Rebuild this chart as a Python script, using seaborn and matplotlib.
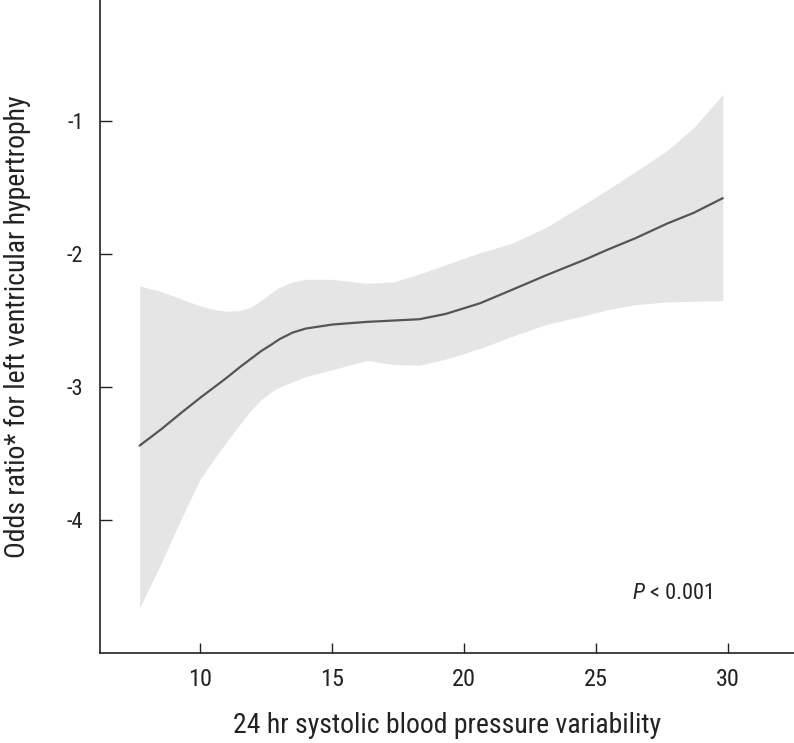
import pandas as pd
import seaborn as sns
import matplotlib.pyplot as plt

# values
sbpv = [7.7, 8.5, 9.3, 10.0, 10.6, 11.0, 11.5, 11.9, 12.3, 12.7, 13.0, 13.5, 14.0, 15.0,
        16.3, 17.3, 18.3, 19.3, 20.6, 21.8, 23.1, 24.6, 25.4, 26.5, 27.7, 28.7, 29.8]
log_or = [-3.44, -3.32, -3.19, -3.08, -2.99, -2.93, -2.85, -2.79, -2.73, -2.68, -2.64, -2.59, -2.56, -2.53,
          -2.51, -2.50, -2.49, -2.45, -2.37, -2.27, -2.16, -2.04, -1.97, -1.88, -1.77, -1.69, -1.58]
ci_upper = [-2.24, -2.28, -2.34, -2.39, -2.42, -2.43, -2.425, -2.40, -2.35, -2.29, -2.25, -2.21, -2.19, -2.19,
            -2.22, -2.21, -2.15, -2.08, -1.99, -1.92, -1.80, -1.62, -1.52, -1.38, -1.22, -1.05, -0.80]
ci_lower = [-4.66, -4.33, -3.98, -3.69, -3.52, -3.41, -3.28, -3.18, -3.095, -3.035, -3.00, -2.96, -2.92, -2.87,
            -2.80, -2.83, -2.835, -2.79, -2.71, -2.62, -2.53, -2.46, -2.42, -2.38, -2.36, -2.355, -2.35]
x_ticks = [10, 15, 20, 25, 30]
y_ticks = [-1, -2, -3, -4]

df = pd.DataFrame({'sbpv': sbpv, 'log_or': log_or, 'lo': ci_lower, 'hi': ci_upper})

sns.set_style('ticks')
plt.rcParams['font.family'] = ['Roboto Condensed', 'DejaVu Sans']
ink = '#222222'

fig = plt.figure(figsize=(7.94, 7.43), dpi=100)
ax = fig.add_axes([0.126, 0.121, 0.874, 0.879])

# confidence band, then the fitted line on top
ax.fill_between(df['sbpv'], df['lo'], df['hi'], color='#e5e5e5', linewidth=0)
sns.lineplot(data=df, x='sbpv', y='log_or', ax=ax, color='#555555', linewidth=1.6)

ax.set_xlim(6.2, 32.5)
ax.set_ylim(-5, -0.09)
ax.set_xticks(x_ticks)
ax.set_xticklabels([str(t) for t in x_ticks])
ax.set_yticks(y_ticks)
ax.set_yticklabels([str(t) for t in y_ticks])
ax.tick_params(axis='x', direction='in', length=7, width=1, labelsize=17.5, pad=11, colors=ink)
ax.tick_params(axis='y', direction='in', length=8.5, width=1, labelsize=16, pad=12, colors=ink)
for s in ['top', 'right']:
    ax.spines[s].set_visible(False)
for s in ['left', 'bottom']:
    ax.spines[s].set_linewidth(1.2)
    ax.spines[s].set_color(ink)

ax.set_xlabel('24 hr systolic blood pressure variability', fontsize=20, labelpad=15, color=ink)
ax.set_ylabel('Odds ratio* for left ventricular hypertrophy', fontsize=20, color=ink)
ax.yaxis.set_label_coords(-0.099, 0.5)

ax.text(26.39, -4.594, 'P', fontsize=16, fontstyle='italic', va='baseline', ha='left', color=ink)
ax.text(27.04, -4.594, '< 0.001', fontsize=16, va='baseline', ha='left', color=ink)

fig.savefig('out.png', dpi=100)
